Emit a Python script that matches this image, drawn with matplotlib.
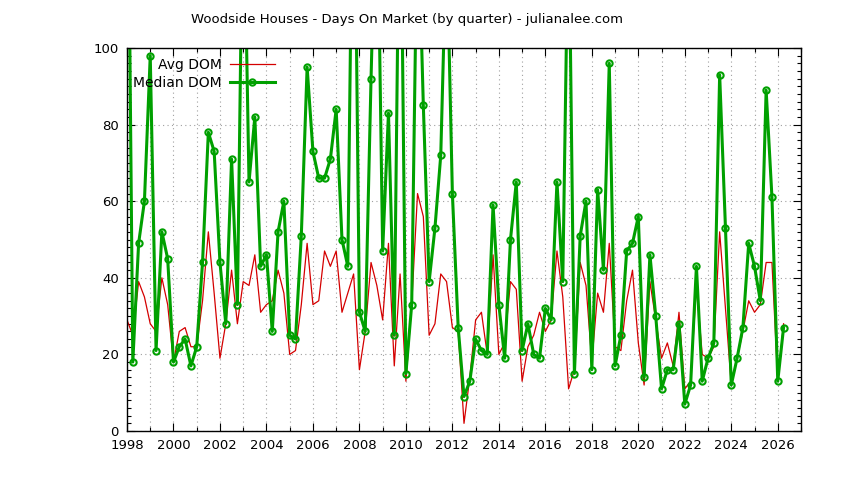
import numpy as np
import matplotlib
matplotlib.use("Agg")
import matplotlib.pyplot as plt
from matplotlib.ticker import MultipleLocator

# quarterly data, first quarter = 1998 Q1
start_year = 1998
avg_dom = [29, 25, 39, 35, 28, 26, 40, 33, 18, 26, 27, 22, 22, 34, 52, 36, 19, 28, 42, 28,
           39, 38, 46, 31, 33, 34, 42, 36, 20, 21, 33, 49, 33, 34, 47, 43, 47, 31, 36,
           41, 16, 26, 44, 38, 29, 49, 17, 41, 13, 33, 62, 56, 25, 28, 41, 39, 27, 26,
           2, 14, 29, 31, 20, 46, 20, 23, 39, 37, 13, 22, 25, 31, 26, 29, 47, 35,
           11, 16, 44, 38, 18, 36, 31, 49, 22, 21, 34, 42, 23, 12, 39, 29, 19, 23, 17, 31,
           11, 13, 38, 20, 19, 22, 52, 32, 12, 19, 26, 34, 31, 33, 44, 44, 13, 28]
median_dom = [180, 18, 49, 60, 98, 21, 52, 45, 18, 22, 24, 17, 22, 44, 78, 73, 44, 28, 71, 33,
              150, 65, 82, 43, 46, 26, 52, 60, 25, 24, 51, 95, 73, 66, 66, 71, 84, 50, 43,
              170, 31, 26, 92, 150, 47, 83, 25, 160, 15, 33, 140, 85, 39, 53, 72, 130, 62, 27,
              9, 13, 24, 21, 20, 59, 33, 19, 50, 65, 21, 28, 20, 19, 32, 29, 65, 39,
              140, 15, 51, 60, 16, 63, 42, 96, 17, 25, 47, 49, 56, 14, 46, 30, 11, 16, 16, 28,
              7, 12, 43, 13, 19, 23, 93, 53, 12, 19, 27, 49, 43, 34, 89, 61, 13, 27]

quarters = start_year + 0.25 * np.arange(len(median_dom))

plt.rcParams['font.family'] = ['DejaVu Sans']
plt.rcParams['font.size'] = 9.5

fig = plt.figure(figsize=(8.44, 4.8), dpi=100)
ax = fig.add_axes([127/844, 1 - 431/480, (801 - 127)/844, (431 - 48)/480])

ax.plot(quarters, avg_dom, color='#d40000', lw=0.9, label='Avg DOM')
ax.plot(quarters, median_dom, color='#00a000', lw=2.2, marker='o', ms=4.5,
        mfc='none', mec='#00a000', mew=1.5, label='Median DOM')

ax.set_xlim(1998, 2027)
ax.set_ylim(0, 100)
ax.xaxis.set_major_locator(MultipleLocator(2))
ax.xaxis.set_minor_locator(MultipleLocator(1))
ax.yaxis.set_major_locator(MultipleLocator(20))
ax.yaxis.set_minor_locator(MultipleLocator(2))
ax.tick_params(which='both', direction='in', top=True, right=True, color='black')
ax.tick_params(which='major', length=6, width=0.8, pad=6)
ax.tick_params(which='minor', length=3, width=0.8)

ax.grid(True, which='major', axis='y', color='#a0a0a0', ls=(0, (1, 3)), lw=0.8)
ax.grid(True, which='both', axis='x', color='#a0a0a0', ls=(0, (1, 3)), lw=0.8)
ax.set_axisbelow(True)
for s in ax.spines.values():
    s.set_linewidth(1.0)

leg = ax.legend(loc='upper left', bbox_to_anchor=(-0.003, 0.995), markerfirst=False,
                frameon=False, handlelength=3.2, handletextpad=0.6,
                labelspacing=0.25, borderaxespad=0.2, fontsize=10)
for t in leg.get_texts():
    t.set_ha('right')
leg._legend_box.align = 'right'

fig.text(407/844, 1 - 19/480, 'Woodside Houses - Days On Market (by quarter) - julianalee.com',
         ha='center', va='center', fontsize=9.5)

fig.savefig('out.png', dpi=100)
